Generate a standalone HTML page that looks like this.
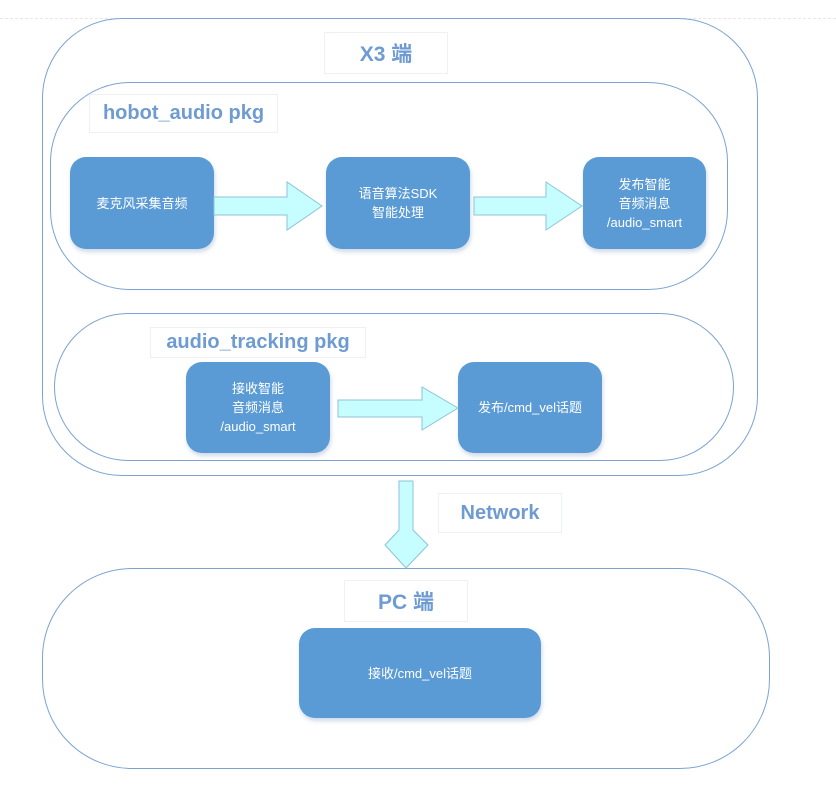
<!DOCTYPE html>
<html><head><meta charset="utf-8"><style>
body{margin:0;width:836px;height:789px;background:#fff;position:relative;overflow:hidden;font-family:"Liberation Sans","Noto Sans CJK SC",sans-serif}
.c{position:absolute;border:1.3px solid #7ba3d2;box-sizing:border-box}
.lb{position:absolute;border:1px solid #eef0f5;box-sizing:border-box;color:#6e9bd1;font-weight:bold;display:flex;align-items:center;justify-content:center}
.b{position:absolute;background:#5b9bd5;border-radius:16px;color:#fff;font-size:13px;line-height:19px;display:flex;align-items:center;justify-content:center;text-align:center;box-shadow:1px 3px 4px rgba(120,150,190,.35)}
svg{position:absolute;left:0;top:0}
</style></head><body>
<div style="position:absolute;left:0;top:18px;width:836px;border-top:1px dashed #e6e6e6"></div>
<div class="c" style="left:42px;top:18px;width:716px;height:458px;border-radius:80px"></div>
<div class="lb" style="left:324px;top:32px;width:124px;height:42px;font-size:21px">X3 端</div>
<div class="c" style="left:50px;top:82px;width:678px;height:208px;border-radius:80px"></div>
<div class="lb" style="left:89px;top:94px;width:189px;height:39px;font-size:20px">hobot_audio pkg</div>
<div class="b" style="left:70px;top:157px;width:144px;height:92px">麦克风采集音频</div>
<div class="b" style="left:326px;top:157px;width:144px;height:92px">语音算法SDK<br>智能处理</div>
<div class="b" style="left:583px;top:157px;width:123px;height:92px">发布智能<br>音频消息<br>/audio_smart</div>
<div class="c" style="left:54px;top:313px;width:680px;height:148px;border-radius:74px"></div>
<div class="lb" style="left:150px;top:327px;width:216px;height:31px;font-size:20px">audio_tracking pkg</div>
<div class="b" style="left:186px;top:362px;width:144px;height:91px">接收智能<br>音频消息<br>/audio_smart</div>
<div class="b" style="left:458px;top:362px;width:144px;height:91px">发布/cmd_vel话题</div>
<div class="lb" style="left:438px;top:493px;width:124px;height:40px;font-size:20px">Network</div>
<div class="c" style="left:42px;top:568px;width:728px;height:201px;border-radius:90px"></div>
<div class="lb" style="left:344px;top:580px;width:124px;height:42px;font-size:21px">PC 端</div>
<div class="b" style="left:299px;top:628px;width:242px;height:90px">接收/cmd_vel话题</div>
<svg width="836" height="789">
<g fill="#c6fdff" stroke="#8ec3d8" stroke-width="1">
<polygon points="214,197 287,197 287,182 322,206 287,230 287,215 214,215"/>
<polygon points="474,197 546,197 546,182 582,206 546,230 546,215 474,215"/>
<polygon points="338,400 422,400 422,387 458,408 422,430 422,417 338,417"/>
<polygon points="399,481 413,481 413,530 428,545 406,568 385,545 399,530"/>
</g></svg>
</body></html>
